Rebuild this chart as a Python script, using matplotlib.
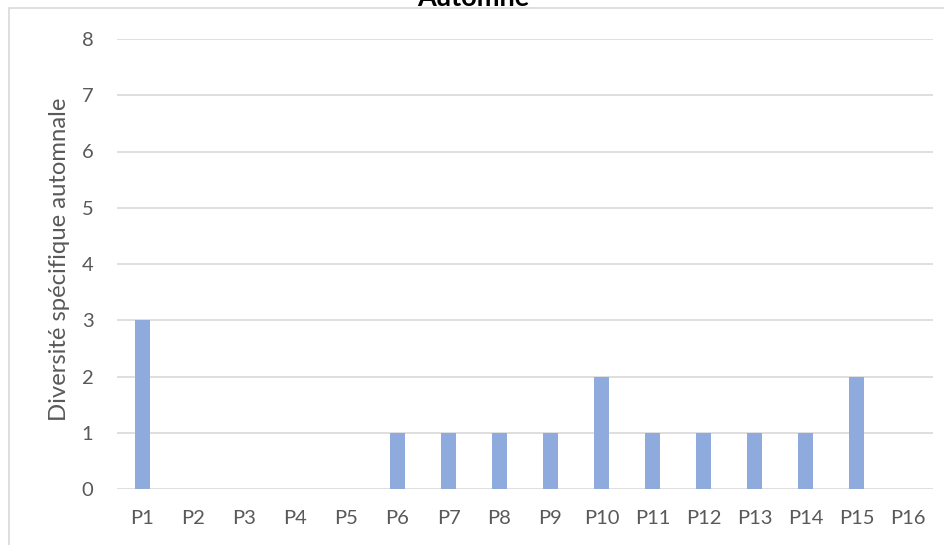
import matplotlib
matplotlib.use("Agg")
from matplotlib import pyplot as plt
from matplotlib.patches import Rectangle

# data
stations = ["P1", "P2", "P3", "P4", "P5", "P6", "P7", "P8",
            "P9", "P10", "P11", "P12", "P13", "P14", "P15", "P16"]
diversity = [3, 0, 0, 0, 0, 1, 1, 1, 1, 2, 1, 1, 1, 1, 2, 0]
y_ticks = [0, 1, 2, 3, 4, 5, 6, 7, 8]

BAR_COLOR = "#8FAADC"
GRID_COLOR = "#D9D9D9"
TEXT_COLOR = "#595959"

plt.rcParams["font.family"] = ["Lato", "DejaVu Sans"]

fig = plt.figure(figsize=(9.44, 5.45), dpi=100)
W, H = 944, 545

# chart frame (extends past the right and bottom edges)
fig.patches.append(Rectangle((8.5 / W, -0.1), 1.2, 1.1 - 8.5 / H,
                             transform=fig.transFigure, fill=False,
                             edgecolor=GRID_COLOR, linewidth=1.2))

ax = fig.add_axes([117 / W, 1 - 489 / H, (933 - 117) / W, (489 - 39) / H])
x = range(len(stations))
ax.bar(x, diversity, width=0.31, color=BAR_COLOR, zorder=3)

ax.set_xlim(-0.5, len(stations) - 0.5)
ax.set_ylim(0, 8)
ax.set_yticks(y_ticks)
ax.set_xticks(list(x))
ax.set_xticklabels(stations)
ax.grid(axis="y", color=GRID_COLOR, linewidth=1.2, zorder=0)
for s in ax.spines.values():
    s.set_visible(False)
ax.tick_params(axis="both", length=0, labelsize=14.5, colors=TEXT_COLOR)
ax.tick_params(axis="x", pad=15)
ax.tick_params(axis="y", pad=17)
ax.set_ylabel("Diversité spécifique automnale", fontsize=17.2, color=TEXT_COLOR)
ax.yaxis.set_label_coords((70 - 117) / 816, 0.51)

fig.text(473 / W, 1 - 6 / H, "Automne", ha="center", va="baseline",
         fontsize=19.5, fontweight="bold", color="black")

fig.savefig("out.png", dpi=100)
